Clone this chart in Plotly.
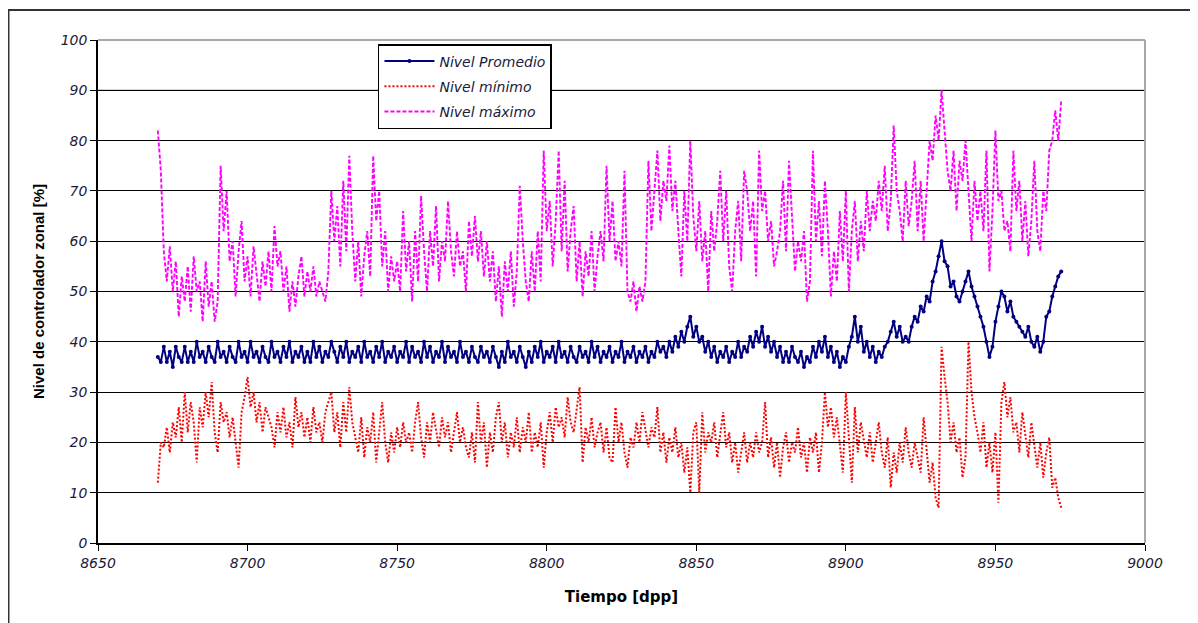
import plotly.graph_objects as go

# Time axis (days, dpp) — one reading per day
tiempo = list(range(8670, 8973))

nivel_maximo = [
    82, 74, 58, 52, 59, 50, 56, 45, 53, 48,
    55, 46, 57, 50, 52, 44, 56, 47, 52, 44,
    48, 75, 62, 70, 56, 60, 49, 58, 64, 52,
    57, 49, 59, 54, 48, 56, 51, 58, 50, 63,
    55, 58, 50, 55, 46, 52, 47, 53, 57, 49,
    54, 50, 55, 49, 52, 50, 48, 54, 70, 60,
    67, 55, 72, 58, 77, 62, 52, 60, 49, 57,
    62, 53, 77, 64, 70, 55, 62, 50, 57, 52,
    56, 50, 66, 54, 60, 48, 62, 52, 69, 58,
    50, 62, 55, 67, 52, 60, 56, 68, 58, 53,
    62, 55, 58, 50, 64, 57, 65, 56, 62, 53,
    60, 52, 58, 48, 55, 45, 56, 50, 58, 47,
    54, 71, 60, 52, 48, 58, 50, 62, 52, 78,
    62, 68, 55, 64, 78, 58, 72, 54, 62, 67,
    52, 60, 49, 58, 53, 62, 50, 57, 62, 56,
    75, 60, 68, 56, 60, 55, 74, 50, 48, 52,
    46, 51, 48, 52, 76, 62, 70, 78, 64, 72,
    68, 79, 66, 72, 62, 53, 70, 60, 80, 65,
    58, 68, 56, 62, 50, 66, 58, 64, 74, 60,
    70, 55, 50, 62, 68, 56, 74, 70, 62, 68,
    53, 78, 66, 70, 60, 64, 55, 58, 62, 72,
    58, 76, 65, 54, 60, 56, 62, 48, 52, 78,
    60, 68, 57, 72, 62, 49, 58, 52, 66, 56,
    70, 50, 62, 68, 56, 64, 58, 70, 62, 68,
    64, 72, 66, 75, 62, 68, 83, 70, 66, 60,
    72, 63, 68, 76, 62, 72, 60, 70, 80, 76,
    85, 80, 90, 82, 74, 70, 78, 66, 76, 72,
    80, 70, 60, 72, 64, 70, 62, 78, 54, 66,
    82, 68, 70, 62, 64, 58, 78, 66, 72, 60,
    68, 57, 64, 76, 62, 58, 70, 66, 78, 80,
    86, 80, 88,
]

nivel_promedio = [
    37, 36, 39, 36, 38, 35, 39, 37, 36, 39,
    36, 38, 36, 40, 37, 38, 36, 39, 37, 36,
    40, 37, 38, 36, 39, 37, 36, 40, 37, 38,
    36, 40, 37, 38, 36, 39, 37, 36, 40, 37,
    38, 36, 39, 37, 40, 36, 38, 37, 39, 36,
    38, 36, 40, 37, 39, 36, 38, 37, 40, 38,
    36, 39, 37, 40, 36, 38, 37, 39, 36, 40,
    37, 38, 36, 39, 37, 40, 36, 38, 37, 39,
    36, 38, 37, 40, 36, 39, 37, 38, 36, 40,
    37, 39, 36, 38, 37, 40, 36, 39, 37, 38,
    36, 40, 37, 38, 36, 39, 37, 36, 39, 37,
    38, 36, 39, 37, 35, 38, 36, 40, 37, 38,
    36, 39, 37, 35, 38, 36, 39, 37, 40, 36,
    38, 37, 39, 36, 40, 37, 38, 36, 39, 37,
    36, 39, 37, 38, 36, 40, 37, 39, 36, 38,
    37, 39, 36, 38, 37, 40, 36, 38, 37, 39,
    36, 38, 37, 39, 36, 38, 37, 40, 38, 39,
    37, 40, 38, 41, 39, 42, 40, 43, 45, 41,
    43, 40, 41, 38, 40, 37, 39, 36, 38, 37,
    39, 36, 38, 37, 40, 37, 39, 38, 41, 39,
    42, 40, 43, 39, 41, 38, 40, 37, 39, 36,
    38, 36, 39, 37, 36, 38, 35, 37, 36, 39,
    37, 40, 38, 41, 37, 39, 36, 38, 35, 37,
    36, 39, 41, 45, 40, 43, 38, 40, 37, 39,
    36, 38, 37, 39, 40, 42, 44, 41, 43, 40,
    41, 40, 43, 45, 44, 47, 46, 49, 48, 52,
    54, 57, 60, 56, 55, 51, 52, 49, 48, 50,
    52, 54, 51, 49, 47, 45, 43, 40, 37, 39,
    44, 47, 50, 49, 46, 48, 45, 44, 43, 42,
    41, 43, 40, 39, 41, 38, 40, 45, 46, 49,
    51, 53, 54,
]

nivel_minimo = [
    12, 20, 19, 23, 18, 24, 21, 27, 20, 30,
    22, 28, 24, 16, 27, 23, 30, 25, 32, 22,
    18, 28, 24, 26, 21, 25, 20, 15, 26, 29,
    33, 27, 30, 24, 28, 22, 27, 25, 23, 19,
    26, 22, 27, 21, 24, 19, 29, 23, 26, 21,
    25, 20, 27, 22, 24, 20, 26, 28, 30, 22,
    26, 19, 28, 22, 31, 24, 21, 18, 25, 17,
    23, 20, 26, 16, 22, 28, 20, 16, 22, 18,
    23, 19, 24, 20, 22, 18, 24, 28, 21, 17,
    24, 20, 26, 22, 19, 25, 21, 24, 18, 22,
    26, 20, 23, 19, 17, 22, 16, 28, 20, 24,
    15, 22, 18, 25, 28, 20, 24, 17, 22, 19,
    25, 18, 23, 20, 26, 18, 22, 19, 24, 15,
    22, 26, 20, 27, 23, 25, 21, 29, 24, 22,
    27, 31, 16, 23, 20, 25, 19, 22, 24, 18,
    23, 17, 16, 27, 20, 24, 18, 15, 21, 19,
    24, 20, 26, 22, 19, 23, 21, 27, 18, 22,
    16, 21, 18, 23, 17, 20, 14, 19, 10, 22,
    24, 10, 26, 18, 22, 20, 24, 17, 21, 26,
    19, 22, 16, 20, 14, 18, 22, 16, 20, 17,
    22, 18, 20, 28, 17, 21, 15, 20, 13, 19,
    22, 16, 20, 18, 23, 17, 20, 14, 21, 18,
    22, 14, 20, 30, 23, 27, 21, 25, 19, 14,
    30, 22, 12, 27, 18, 24, 20, 17, 22, 16,
    20, 24, 18, 15, 21, 11, 18, 14, 20, 16,
    23, 18, 15, 20, 17, 14, 25, 18, 12, 16,
    9, 7, 39, 33, 28, 20, 24, 18, 21, 13,
    17, 40, 30, 25, 22, 18, 24, 15, 20, 14,
    22, 8, 28, 32, 25, 29, 22, 24, 18, 26,
    21, 17, 24, 19, 15, 20, 13, 18, 21, 11,
    13, 9, 7,
]

x_ticks = [8650, 8700, 8750, 8800, 8850, 8900, 8950, 9000]
y_ticks = [0, 10, 20, 30, 40, 50, 60, 70, 80, 90, 100]

FONT = "Liberation Sans, Arial, sans-serif"
WIDE = "DejaVu Sans, Verdana, sans-serif"
TEXT = "#1a1a3a"

fig = go.Figure()
fig.add_trace(go.Scatter(
    x=tiempo, y=nivel_promedio, name="Nivel Promedio", mode="lines+markers",
    line=dict(color="#000080", width=2), marker=dict(color="#000080", size=4),
    legendgroup="a"))
fig.add_trace(go.Scatter(
    x=tiempo, y=nivel_minimo, name="Nivel mínimo", mode="lines",
    line=dict(color="#FF0000", width=2, dash="2px,2px"), legendgroup="b"))
fig.add_trace(go.Scatter(
    x=tiempo, y=nivel_maximo, name="Nivel máximo", mode="lines",
    line=dict(color="#FF00FF", width=1.9, dash="4px,2px"), legendgroup="c"))

fig.update_layout(
    width=1190, height=615,
    margin=dict(l=90, r=53, t=32, b=80),
    paper_bgcolor="white", plot_bgcolor="white",
    font=dict(family=FONT, color="black"),
    showlegend=True,
    legend=dict(
        x=0.2674, y=0.992, xanchor="left", yanchor="top",
        bgcolor="white", bordercolor="black", borderwidth=1.5,
        font=dict(family=WIDE, size=14, style="italic", color=TEXT),
        traceorder="grouped", tracegroupgap=4, itemwidth=50,
    ),
    xaxis=dict(
        range=[8650, 9000], tickvals=x_ticks, ticks="outside", ticklen=6,
        tickcolor="black", showgrid=False, showline=True, linecolor="black",
        linewidth=1.5, zeroline=False,
        tickfont=dict(family=WIDE, size=14, style="italic", color=TEXT),
        title=dict(text="<b>Tiempo [dpp]</b>", font=dict(family=WIDE, size=15),
                   standoff=22),
    ),
    yaxis=dict(
        range=[0, 100], tickvals=y_ticks, ticks="outside", ticklen=6,
        tickcolor="black", showgrid=True, gridcolor="black", gridwidth=1.2,
        showline=True, linecolor="black", linewidth=1.5, zeroline=False,
        tickfont=dict(family=WIDE, size=14, style="italic", color=TEXT),
        title=dict(text="<b>Nivel de controlador zonal [%]</b>",
                   font=dict(family=FONT, size=15), standoff=12),
    ),
)

# Light grey top gridline and plot-area border (top & right)
fig.add_shape(type="line", xref="paper", yref="y", x0=0, x1=1, y0=90, y1=90,
              line=dict(color="#a8a8a8", width=1.5), layer="below")
fig.add_shape(type="line", xref="paper", yref="paper", x0=0, x1=1, y0=1, y1=1,
              line=dict(color="#a8a8a8", width=2), layer="above")
fig.add_shape(type="line", xref="paper", yref="paper", x0=1, x1=1, y0=0, y1=1,
              line=dict(color="#a8a8a8", width=2), layer="above")
# Outer chart frame (extends beyond the picture on right and bottom)
fig.add_shape(type="rect", xref="paper", yref="paper",
              x0=-0.0855, x1=1.08, y0=-0.25, y1=1.0596,
              line=dict(color="#333333", width=2), fillcolor="rgba(0,0,0,0)",
              layer="above")

fig.write_html("out.html")
